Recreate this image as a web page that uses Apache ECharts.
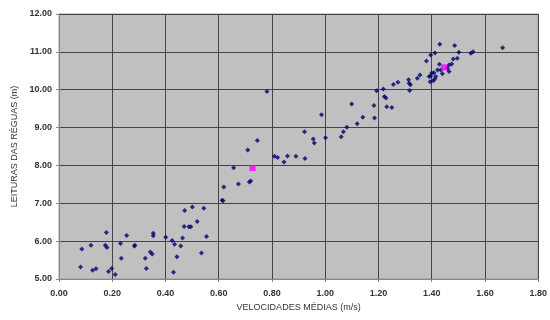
<!DOCTYPE html>
<html>
<head>
<meta charset="utf-8">
<script src="https://cdn.jsdelivr.net/npm/echarts@6/dist/echarts.min.js"></script>
<style>
  html, body { margin: 0; padding: 0; background: #fff; }
  #chart { width: 550px; height: 320px; }
</style>
</head>
<body>
<div id="chart"></div>
<script>
// leituras: [velocidade média (m/s), leitura da régua (m)]
const pontosBaixos = [
  [0.081, 5.32], [0.086, 5.79], [0.12, 5.89], [0.126, 5.23], [0.139, 5.27],
  [0.178, 6.23], [0.174, 5.89], [0.18, 5.83], [0.186, 5.20], [0.198, 5.28],
  [0.211, 5.12], [0.231, 5.94], [0.234, 5.55], [0.254, 6.15], [0.285, 5.89],
  [0.283, 5.87], [0.324, 5.55], [0.328, 5.28], [0.343, 5.71], [0.35, 5.66],
  [0.354, 6.21], [0.354, 6.14], [0.401, 6.10], [0.425, 6.02], [0.43, 5.18],
  [0.434, 5.92], [0.443, 5.59], [0.457, 5.87], [0.464, 6.08], [0.47, 6.39],
  [0.472, 6.81], [0.488, 6.38], [0.495, 6.38], [0.501, 6.90], [0.519, 6.52],
  [0.535, 5.69], [0.544, 6.87], [0.554, 6.12], [0.616, 7.07], [0.613, 7.08]
];
const pontosMedios = [
  [0.619, 7.43], [0.674, 7.51], [0.715, 7.56], [0.72, 7.59], [0.656, 7.94],
  [0.709, 8.41], [0.745, 8.66], [0.781, 9.95], [0.809, 8.24], [0.821, 8.21],
  [0.845, 8.09], [0.858, 8.25], [0.89, 8.24], [0.924, 8.18], [0.922, 8.89],
  [0.955, 8.70], [0.959, 8.59], [0.986, 9.34], [1.001, 8.73], [1.06, 8.76],
  [1.068, 8.89], [1.081, 9.01], [1.099, 9.62], [1.12, 9.10], [1.141, 9.27],
  [1.185, 9.25], [1.183, 9.58]
];
const pontosAltos = [
  [1.193, 9.97], [1.218, 10.02], [1.222, 9.82], [1.228, 9.78], [1.231, 9.55],
  [1.25, 9.53], [1.256, 10.14], [1.273, 10.20], [1.313, 10.26], [1.315, 10.17],
  [1.32, 10.13], [1.317, 9.98], [1.346, 10.30], [1.356, 10.39], [1.38, 10.76],
  [1.396, 10.92], [1.412, 10.97], [1.43, 11.20], [1.486, 11.17], [1.502, 10.99],
  [1.547, 10.96], [1.555, 11.00], [1.666, 11.11], [1.481, 10.81], [1.496, 10.83],
  [1.429, 10.67], [1.465, 10.65], [1.475, 10.68], [1.459, 10.57], [1.422, 10.52],
  [1.434, 10.52], [1.465, 10.48], [1.44, 10.42], [1.408, 10.45], [1.40, 10.44],
  [1.396, 10.36], [1.415, 10.35], [1.411, 10.28], [1.39, 10.35], [1.394, 10.21],
  [1.406, 10.24]
];
// pontos destacados (rosa)
const destaques = [[0.727, 7.93], [1.446, 10.59]];

const chart = echarts.init(document.getElementById('chart'));

const tickLabel = {
  color: '#333',
  fontFamily: 'Liberation Sans, Arial, sans-serif',
  fontSize: 9,
  fontWeight: 'bold',
  formatter: v => v.toFixed(2)
};

chart.setOption({
  animation: false,
  grid: {
    left: 59, right: 11, top: 14, bottom: 41,
    show: true,
    backgroundColor: '#C0C0C0',
    borderColor: '#9a9a9a',
    borderWidth: 1
  },
  xAxis: {
    type: 'value',
    min: 0, max: 1.8, interval: 0.2,
    name: 'VELOCIDADES MÉDIAS (m/s)',
    nameLocation: 'middle',
    nameGap: 24,
    nameTextStyle: { color: '#333', fontSize: 9, fontFamily: 'Liberation Sans, Arial, sans-serif' },
    axisLine: { show: true, lineStyle: { color: '#888' } },
    axisTick: { show: true, length: 3, lineStyle: { color: '#888' } },
    axisLabel: Object.assign({ margin: 10 }, tickLabel),
    splitLine: { show: true, lineStyle: { color: '#444', width: 1 } }
  },
  yAxis: {
    type: 'value',
    min: 5, max: 12, interval: 1,
    name: 'LEITURAS DAS RÉGUAS (m)',
    nameLocation: 'middle',
    nameGap: 37,
    nameTextStyle: { color: '#333', fontSize: 9, fontFamily: 'Liberation Sans, Arial, sans-serif' },
    axisLine: { show: true, lineStyle: { color: '#888' } },
    axisTick: { show: true, length: 3, lineStyle: { color: '#888' } },
    axisLabel: Object.assign({ margin: 7 }, tickLabel),
    splitLine: { show: true, lineStyle: { color: '#444', width: 1 } }
  },
  series: [
    {
      type: 'scatter',
      data: pontosBaixos.concat(pontosMedios, pontosAltos),
      symbol: 'diamond',
      symbolSize: 5,
      itemStyle: { color: '#000070' }
    },
    {
      type: 'scatter',
      data: destaques,
      symbol: 'rect',
      symbolSize: 6,
      itemStyle: { color: '#FF00FF' }
    }
  ]
});
</script>
</body>
</html>
